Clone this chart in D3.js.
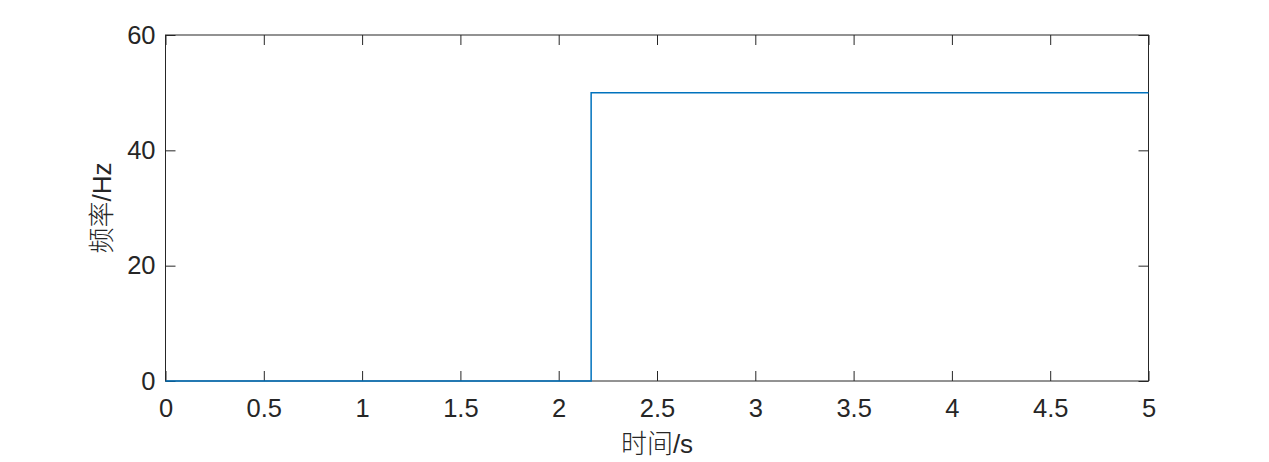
<!DOCTYPE html>
<html><head><meta charset="utf-8">
<script src="https://cdn.jsdelivr.net/npm/d3@7"></script>
<style>
body{margin:0;background:#fff;}
text{font-family:Arial,"Liberation Sans",Helvetica,sans-serif;fill:#262626;}
</style></head>
<body>
<svg id="c" width="1269" height="462"></svg>
<script>
const times = [0, 2.165, 2.165, 5];
const freq = [0, 0, 50, 50];
const xTicks = [0, 0.5, 1, 1.5, 2, 2.5, 3, 3.5, 4, 4.5, 5];
const xTickLabels = ["0","0.5","1","1.5","2","2.5","3","3.5","4","4.5","5"];
const yTicks = [0, 20, 40, 60];
const yTickLabels = ["0","20","40","60"];
const xLabel = "时间/s";
const yLabel = "频率/Hz";

const svg = d3.select("#c");
const L = 165.5, R = 1148.5, T = 35, B = 381;
const x = d3.scaleLinear().domain([0,5]).range([L,R]);
const y = d3.scaleLinear().domain([0,60]).range([B,T]);
const axCol = "#262626", tl = 10;

const g = svg.append("g");
g.append("rect").attr("x",L).attr("y",T).attr("width",R-L).attr("height",B-T)
 .attr("fill","none").attr("stroke",axCol).attr("stroke-width",1);

const fs = 25.5;
const xa = d3.axisBottom(x).tickValues(xTicks).tickFormat((d,i)=>xTickLabels[i]).tickSizeInner(-tl).tickSizeOuter(0).tickPadding(18);
const gx = g.append("g").attr("transform",`translate(0,${B})`).call(xa);
const xt = d3.axisTop(x).tickValues(xTicks).tickFormat("").tickSizeInner(-tl).tickSizeOuter(0);
const gxt = g.append("g").attr("transform",`translate(0,${T})`).call(xt);
const ya = d3.axisLeft(y).tickValues(yTicks).tickFormat((d,i)=>yTickLabels[i]).tickSizeInner(-tl).tickSizeOuter(0).tickPadding(10);
const gy = g.append("g").attr("transform",`translate(${L},0)`).call(ya);
const yr = d3.axisRight(y).tickValues(yTicks).tickFormat("").tickSizeInner(-tl).tickSizeOuter(0);
const gyr = g.append("g").attr("transform",`translate(${R},0)`).call(yr);
[gx,gxt,gy,gyr].forEach(a=>{
  a.select(".domain").remove();
  a.selectAll("line").attr("stroke",axCol);
  a.selectAll("text").attr("font-size",fs).attr("fill",axCol)
   .style("font-family","Arial,'Liberation Sans',sans-serif");
});

const line = d3.line().x((d,i)=>x(times[i])).y((d,i)=>y(freq[i]));
g.append("path").datum(times).attr("d",line).attr("fill","none")
 .attr("stroke","#0072BD").attr("stroke-width",1.5);

const lf = 26;
const lfam = "'Liberation Sans','Noto Sans CJK SC',sans-serif";
svg.append("text").attr("x",(L+R)/2).attr("y",453).attr("text-anchor","middle")
 .attr("font-size",lf).style("font-family",lfam).attr("font-weight",300).attr("fill",axCol).text(xLabel);
svg.append("text").attr("transform",`translate(${111},${(T+B)/2}) rotate(-90)`).attr("text-anchor","middle")
 .attr("font-size",lf).style("font-family",lfam).attr("font-weight",300).attr("fill",axCol).text(yLabel);
</script>
</body></html>
